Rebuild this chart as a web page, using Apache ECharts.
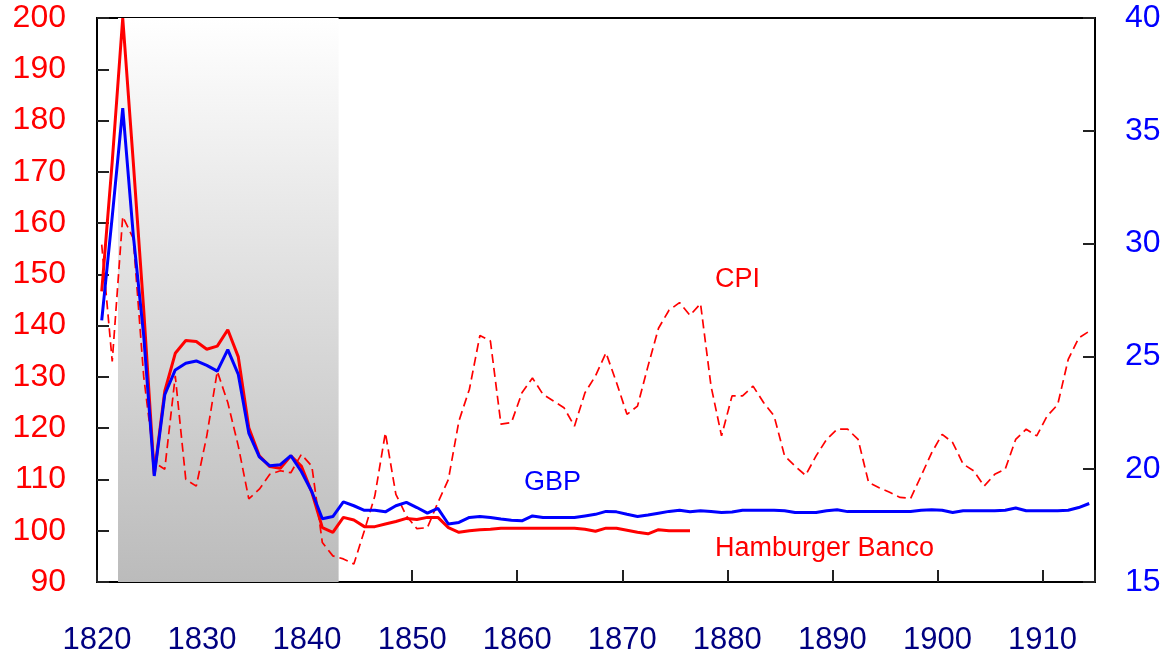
<!DOCTYPE html>
<html>
<head>
<meta charset="utf-8">
<title>CPI, Hamburger Banco, GBP</title>
<script src="https://cdn.jsdelivr.net/npm/echarts@6.0.0/dist/echarts.min.js"></script>
<style>
    html, body {margin: 0; padding: 0; background: #fff;}
    #main {width: 1171px; height: 656px;}
</style>
</head>
<body>
<div id="main"></div>
<script>
// years 1820 .. 1914
const years = [];
for (let y = 1820; y <= 1914; y++) years.push(y);

// CPI (left axis, dashed)
const cpi = [
    155.8, 133.0, 161.3, 157.0, 130.0, 113.3, 112.0, 130.2, 110.0, 108.7,
    118.5, 131.1, 125.0, 116.5, 106.2, 108.1, 111.0, 111.7, 111.3, 114.9,
    112.6, 97.7, 95.1, 94.5, 93.5, 100.0, 106.8, 119.1, 107.1, 102.9,
    100.4, 100.6, 105.5, 110.0, 121.4, 127.6, 138.1, 137.0, 120.8, 121.1,
    126.9, 129.8, 126.6, 125.3, 124.0, 120.4, 126.9, 130.2, 134.7, 128.9,
    122.7, 124.3, 132.1, 139.5, 143.0, 144.5, 142.0, 144.3, 128.2, 118.5,
    126.3, 126.3, 128.2, 125.0, 122.4, 114.6, 112.6, 110.8, 114.6, 117.8,
    119.8, 119.8, 117.8, 109.4, 108.4, 107.5, 106.5, 106.3, 110.7, 115.2,
    118.8, 117.2, 113.0, 111.7, 108.7, 111.0, 112.0, 117.8, 119.8, 118.5,
    122.4, 124.6, 133.4, 137.6, 138.9
];

// Hamburger Banco (left axis), 1820 .. 1876
const banco = [
    146.7, 172.0, 200.0, 172.0, 143.0, 111.0, 127.2, 134.6, 137.1, 136.9,
    135.4, 136.0, 139.2, 133.9, 120.1, 114.6, 112.5, 112.2, 114.6, 112.6,
    107.5, 100.6, 99.7, 102.6, 102.1, 100.8, 100.8, 101.3, 101.8, 102.4,
    102.2, 102.6, 102.6, 100.6, 99.7, 100.0, 100.2, 100.3, 100.5, 100.5,
    100.5, 100.5, 100.5, 100.5, 100.5, 100.5, 100.3, 99.9, 100.5, 100.5,
    100.1, 99.7, 99.4, 100.2, 100.0, 100.0, 100.0
];

// GBP (right axis)
const gbp = [
    26.6, 31.2, 36.0, 30.4, 25.9, 19.7, 23.3, 24.4, 24.7, 24.8,
    24.6, 24.35, 25.3, 24.2, 21.6, 20.55, 20.15, 20.2, 20.6, 19.9,
    19.0, 17.8, 17.9, 18.55, 18.38, 18.18, 18.18, 18.11, 18.38, 18.53,
    18.3, 18.05, 18.26, 17.57, 17.64, 17.86, 17.9, 17.86, 17.79, 17.74,
    17.71, 17.93, 17.86, 17.86, 17.86, 17.86, 17.93, 18.0, 18.13, 18.11,
    18.0, 17.9, 17.97, 18.05, 18.13, 18.18, 18.11, 18.16, 18.13, 18.08,
    18.1, 18.18, 18.18, 18.18, 18.18, 18.16, 18.08, 18.08, 18.08, 18.16,
    18.2, 18.12, 18.12, 18.12, 18.12, 18.12, 18.12, 18.13, 18.18, 18.2,
    18.18, 18.08, 18.16, 18.16, 18.16, 18.16, 18.18, 18.28, 18.16, 18.16,
    18.16, 18.16, 18.18, 18.3, 18.48
];

// shaded period
const shadeFrom = 1822;
const shadeTo = 1843;

// annual values are plotted mid-year
const MID = 0.45;
const pairs = vals => vals.map((v, i) => [years[i] + MID, v]);

const FONT = 'Liberation Sans';

const chart = echarts.init(document.getElementById('main'), null, {renderer: 'canvas'});

const axisLine = {show: true, lineStyle: {color: '#000', width: 2}};
const axisTick = {show: true, inside: true, length: 12, lineStyle: {color: '#222', width: 2}};

const option = {
    animation: false,
    grid: {
        left: 97, right: 76, top: 18, bottom: 73,
        show: true, borderColor: '#000', borderWidth: 2
    },
    xAxis: {
        type: 'value',
        min: 1820, max: 1915, interval: 10,
        axisLine: axisLine,
        axisTick: axisTick,
        splitLine: {show: false},
        axisLabel: {
            color: '#000080', fontFamily: FONT, fontSize: 31, margin: 43,
            formatter: v => (v % 10 === 0 ? String(v) : '')
        }
    },
    yAxis: [
        {
            type: 'value', position: 'left',
            min: 90, max: 200, interval: 10,
            axisLine: axisLine, axisTick: axisTick,
            splitLine: {show: false},
            axisLabel: {color: '#ff0000', fontFamily: FONT, fontSize: 32, margin: 31}
        },
        {
            type: 'value', position: 'right',
            min: 15, max: 40, interval: 5,
            axisLine: axisLine, axisTick: axisTick,
            splitLine: {show: false},
            axisLabel: {color: '#0000ff', fontFamily: FONT, fontSize: 32, margin: 30}
        }
    ],
    series: [
        {
            name: 'CPI',
            type: 'line',
            yAxisIndex: 0,
            data: pairs(cpi),
            symbol: 'none',
            lineStyle: {color: '#ff0000', width: 1.7, type: [9, 5]},
            markArea: {
                silent: true,
                itemStyle: {
                    color: {
                        type: 'linear', x: 0, y: 0, x2: 0, y2: 1,
                        colorStops: [
                            {offset: 0, color: '#ffffff'},
                            {offset: 1, color: '#bbbbbb'}
                        ]
                    }
                },
                data: [[{xAxis: shadeFrom}, {xAxis: shadeTo}]]
            }
        },
        {
            name: 'Hamburger Banco',
            type: 'line',
            yAxisIndex: 0,
            data: pairs(banco),
            symbol: 'none',
            lineStyle: {color: '#ff0000', width: 3}
        },
        {
            name: 'GBP',
            type: 'line',
            yAxisIndex: 1,
            data: pairs(gbp),
            symbol: 'none',
            lineStyle: {color: '#0000ff', width: 3}
        }
    ],
    // series names written inside the plot
    graphic: [
        {type: 'text', x: 715, y: 280, style: {text: 'CPI', fill: '#ff0000', font: '27px "' + FONT + '"', verticalAlign: 'middle'}},
        {type: 'text', x: 524, y: 483, style: {text: 'GBP', fill: '#0000ff', font: '27px "' + FONT + '"', verticalAlign: 'middle'}},
        {type: 'text', x: 715, y: 549, style: {text: 'Hamburger Banco', fill: '#ff0000', font: '27px "' + FONT + '"', verticalAlign: 'middle'}}
    ]
};

chart.setOption(option);
</script>
</body>
</html>
